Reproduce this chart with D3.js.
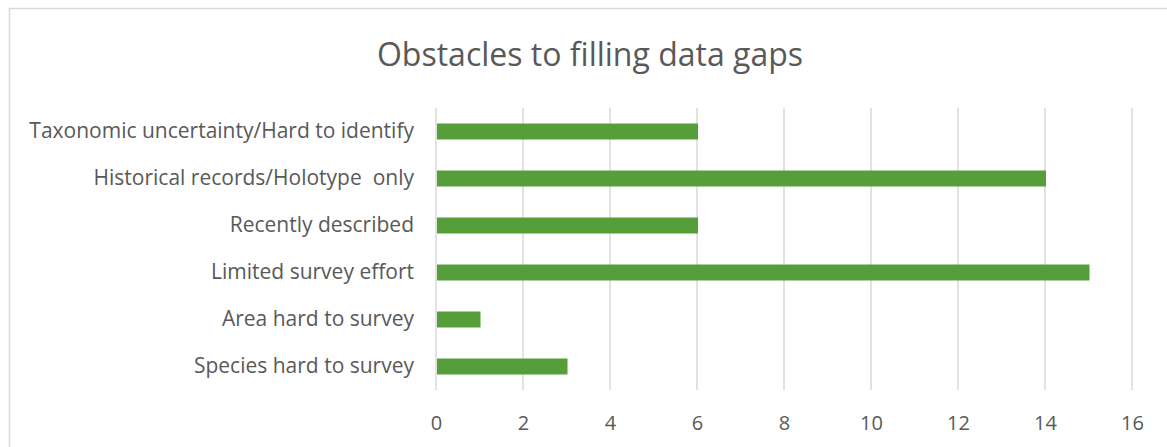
<!DOCTYPE html>
<html>
<head>
<meta charset="utf-8">
<script src="https://cdn.jsdelivr.net/npm/d3@7"></script>
<style>
  body { margin: 0; background: #fff; }
  text { font-family: "Open Sans", "Noto Sans", sans-serif; fill: #595959; }
</style>
</head>
<body>
<div id="chart"></div>
<script>
// data, top to bottom
var categories = [
  "Taxonomic uncertainty/Hard to identify",
  "Historical records/Holotype  only",
  "Recently described",
  "Limited survey effort",
  "Area hard to survey",
  "Species hard to survey"
];
var counts = [6, 14, 6, 15, 1, 3];
var tickValues = [0, 2, 4, 6, 8, 10, 12, 14, 16];

var svgWidth = 1167;
var svgHeight = 447;

var margin = { top: 108, right: 35, bottom: 57, left: 436 };
var width = svgWidth - margin.left - margin.right;
var height = svgHeight - margin.top - margin.bottom;

var svg = d3.select("#chart")
  .append("svg")
  .attr("width", svgWidth)
  .attr("height", svgHeight);

// chart frame
svg.append("rect")
  .attr("x", 9.5)
  .attr("y", 8.5)
  .attr("width", svgWidth + 20)
  .attr("height", svgHeight + 20)
  .attr("fill", "none")
  .attr("stroke", "#d9d9d9")
  .attr("stroke-width", 1.5);

svg.append("text")
  .attr("x", 590)
  .attr("y", 66)
  .attr("text-anchor", "middle")
  .style("font-size", "32px")
  .text("Obstacles to filling data gaps");

var chartGroup = svg.append("g")
  .attr("transform", `translate(${margin.left}, ${margin.top})`);

var xScale = d3.scaleLinear()
  .domain([0, 16])
  .range([0, width]);

var yScale = d3.scaleBand()
  .domain(categories)
  .range([0, height])
  .paddingInner(0.66)
  .paddingOuter(0.33);

// gridlines
chartGroup.append("g")
  .selectAll("line")
  .data(tickValues)
  .enter()
  .append("line")
  .attr("x1", d => xScale(d))
  .attr("x2", d => xScale(d))
  .attr("y1", 0)
  .attr("y2", height)
  .attr("stroke", "#d9d9d9")
  .attr("stroke-width", 1.5);

// x tick labels
var bottomAxis = d3.axisBottom(xScale)
  .tickValues(tickValues)
  .tickSize(0)
  .tickPadding(26);

var xAxis = chartGroup.append("g")
  .attr("transform", `translate(0, ${height})`)
  .call(bottomAxis);
xAxis.select(".domain").remove();
xAxis.selectAll("text")
  .style("font-size", "20px")
  .attr("fill", "#595959");

// category labels
var leftAxis = d3.axisLeft(yScale)
  .tickSize(0)
  .tickPadding(22);

var yAxis = chartGroup.append("g").call(leftAxis);
yAxis.select(".domain").remove();
yAxis.selectAll("text")
  .style("font-size", "21px")
  .style("white-space", "pre")
  .attr("fill", "#595959");

chartGroup.selectAll("rect.bar")
  .data(counts)
  .enter()
  .append("rect")
  .attr("class", "bar")
  .attr("x", xScale(0) + 1)
  .attr("y", (d, i) => yScale(categories[i]))
  .attr("width", d => xScale(d) - xScale(0))
  .attr("height", yScale.bandwidth())
  .attr("fill", "#559e3a");
</script>
</body>
</html>
